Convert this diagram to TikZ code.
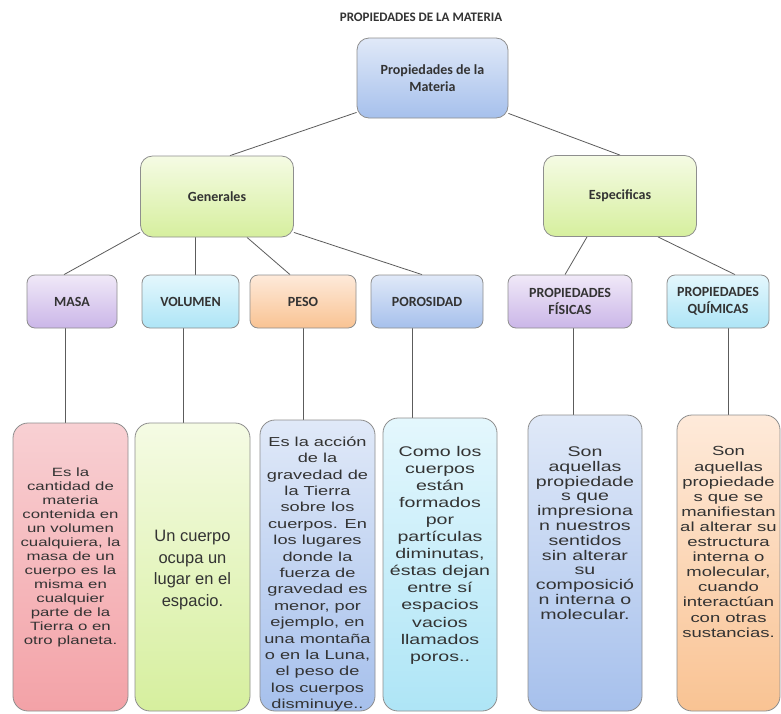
\documentclass[tikz,border=0pt]{standalone}
\usepackage{fontspec}
\setmainfont{Carlito}
\newfontfamily\descfont[FakeStretch=1.4]{Liberation Sans}
\newfontfamily\plainfont{Liberation Sans}
\usetikzlibrary{calc,backgrounds}
\definecolor{edge}{HTML}{5C5C5C}
\definecolor{frame}{HTML}{8E8E8E}
\definecolor{ink}{HTML}{333333}
\definecolor{blueT}{HTML}{E0E9F8}
\definecolor{blueB}{HTML}{A6C0EC}
\definecolor{greenT}{HTML}{F5FBE4}
\definecolor{greenB}{HTML}{D6EF9E}
\definecolor{lavT}{HTML}{F0E9F8}
\definecolor{lavB}{HTML}{CBB6E8}
\definecolor{cyanT}{HTML}{E4F7FD}
\definecolor{cyanB}{HTML}{AEE5F6}
\definecolor{peachT}{HTML}{FEEADA}
\definecolor{peachB}{HTML}{F9C393}
\definecolor{pinkT}{HTML}{F8D0D3}
\definecolor{pinkB}{HTML}{F3A2A7}
\tikzset{
  box/.style={
    draw=frame, line width=0.8pt, rounded corners=8pt, inner sep=0pt,
    align=center, text=ink, font=\bfseries\fontsize{14}{17}\selectfont
  },
  mainbox/.style={box, rounded corners=12pt, minimum width=151pt, minimum height=80pt},
  groupbox/.style={box, rounded corners=12pt, minimum width=153pt, minimum height=81pt},
  propbox/.style={box, minimum height=53pt},
  descbox/.style={draw=frame, line width=0.8pt, rounded corners=15pt, inner sep=0pt},
  desctext/.style={align=center, text=ink, inner sep=0pt},
  link/.style={draw=edge, line width=0.8pt},
  blue/.style={top color=blueT, bottom color=blueB},
  green/.style={top color=greenT, bottom color=greenB},
  lavender/.style={top color=lavT, bottom color=lavB},
  cyan/.style={top color=cyanT, bottom color=cyanB},
  peach/.style={top color=peachT, bottom color=peachB},
  pink/.style={top color=pinkT, bottom color=pinkB},
}
\begin{document}
\begin{tikzpicture}[x=1pt, y=-1pt]
  \useasboundingbox (0,0) rectangle (781,713);

  \node[text=ink, font=\bfseries\fontsize{13}{15}\selectfont] (ttl) at (421,17) {PROPIEDADES DE LA MATERIA};
  \node[mainbox, blue] (top) at (432.5,78) {Propiedades de la\\Materia};

  \node[groupbox, green] (gen) at (217,196.5) {Generales};
  \node[groupbox, green] (esp) at (620,196) {Especificas};

  \node[propbox, lavender, minimum width=90pt]  (masa) at (72,301.5)  {MASA};
  \node[propbox, cyan,     minimum width=97pt]  (vol)  at (190.5,301.5) {VOLUMEN};
  \node[propbox, peach,    minimum width=106pt] (peso) at (303,301.5) {PESO};
  \node[propbox, blue,     minimum width=112pt] (por)  at (427,301.5) {POROSIDAD};
  \node[propbox, lavender, minimum width=124pt] (fis)  at (570,301.5) {PROPIEDADES\\FÍSICAS};
  \node[propbox, cyan,     minimum width=102pt] (quim) at (718,301.5) {PROPIEDADES\\QUÍMICAS};

  % definition boxes
  \node[descbox, pink,  minimum width=115pt, minimum height=288pt] (b1) at (70.5,567) {};
  \node[descbox, green, minimum width=115pt, minimum height=288pt] (b2) at (192.5,567) {};
  \node[descbox, blue,  minimum width=115pt, minimum height=291pt] (b3) at (317.5,565.5) {};
  \node[descbox, cyan,  minimum width=114pt, minimum height=293pt] (b4) at (440,564.5) {};
  \node[descbox, blue,  minimum width=114pt, minimum height=296pt] (b5) at (585,563) {};
  \node[descbox, peach, minimum width=103pt, minimum height=296pt] (b6) at (728.5,563) {};

  \node[desctext, font=\descfont\fontsize{12}{14}\selectfont] (t1) at (70.5,557)
    {Es la\\cantidad de\\materia\\contenida en\\un volumen\\cualquiera, la\\masa de un\\cuerpo es la\\misma en\\cualquier\\parte de la\\Tierra o en\\otro planeta.};
  \node[desctext, font=\plainfont\fontsize{16.5}{21.7}\selectfont] (t2) at (192.5,570)
    {Un cuerpo\\ocupa un\\lugar en el\\espacio.};
  \node[desctext, font=\descfont\fontsize{13}{16.4}\selectfont] (t3) at (317.5,574)
    {Es la acción\\de la\\gravedad de\\la Tierra\\sobre los\\cuerpos. En\\los lugares\\donde la\\fuerza de\\gravedad es\\menor, por\\ejemplo, en\\una montaña\\o en la Luna,\\el peso de\\los cuerpos\\disminuye..};
  \node[desctext, font=\descfont\fontsize{14}{17.1}\selectfont] (t4) at (440,555)
    {Como los\\cuerpos\\están\\formados\\por\\partículas\\diminutas,\\éstas dejan\\entre sí\\espacios\\vacios\\llamados\\poros..};
  \node[desctext, font=\descfont\fontsize{14}{14.8}\selectfont] (t5) at (585,533)
    {Son\\aquellas\\propiedade\\s que\\impresiona\\n nuestros\\sentidos\\sin alterar\\su\\composició\\n interna o\\molecular.};
  \node[desctext, font=\descfont\fontsize{13.2}{15.1}\selectfont] (t6) at (728.5,542)
    {Son\\aquellas\\propiedade\\s que se\\manifiestan\\al alterar su\\estructura\\interna o\\molecular,\\cuando\\interactúan\\con otras\\sustancias.};

  \begin{scope}[on background layer]
    \fill[white] (0,0) rectangle (781,713);
    \draw[link] ([yshift=6pt]top.south west) -- ([xshift=13pt]gen.north);
    \draw[link] ([yshift=5pt]top.south east) -- (esp.north);
    \draw[link] ([yshift=5pt]gen.south west) -- ([xshift=-8pt]masa.north);
    \draw[link] ([xshift=4.5pt]vol.north) -- ([xshift=4.5pt]vol.north |- gen.south);
    \draw[link] ([xshift=30pt]gen.south) -- ([xshift=-13pt]peso.north);
    \draw[link] ([yshift=5pt]gen.south east) -- ([xshift=-5pt]por.north);
    \draw[link] ([xshift=-33pt]esp.south) -- ([xshift=-5pt]fis.north);
    \draw[link] ([xshift=38pt]esp.south) -- ([xshift=17pt]quim.north);
    % down to the definitions
    \draw[link] ([xshift=-7pt]masa.south) -- ([xshift=-7pt]masa.south |- b1.north);
    \draw[link] ([xshift=-7.5pt]vol.south) -- ([xshift=-7.5pt]vol.south |- b2.north);
    \draw[link] (peso.south) -- (peso.south |- b3.north);
    \draw[link] ([xshift=-15pt]por.south) -- ([xshift=-15pt]por.south |- b4.north);
    \draw[link] ([xshift=3pt]fis.south) -- ([xshift=3pt]fis.south |- b5.north);
    \draw[link] ([xshift=10pt]quim.south) -- ([xshift=10pt]quim.south |- b6.north);
  \end{scope}
\end{tikzpicture}
\end{document}
